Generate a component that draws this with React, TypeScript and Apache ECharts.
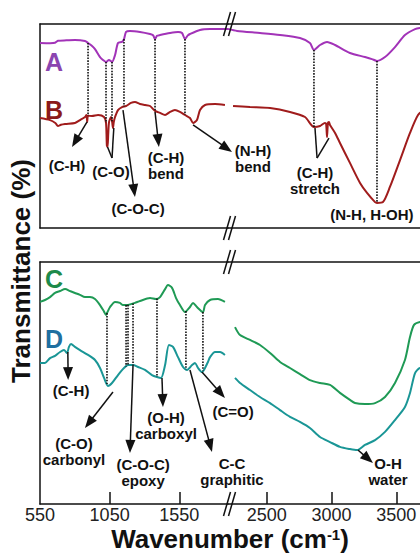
import React, { useEffect, useRef } from 'react';
import * as echarts from 'echarts';

// ---------- data (wavenumber cm^-1, transmittance in arbitrary % units) ----------
const specA: [number, number][] = [
  [550, 90.7], [622, 90.6], [658, 90.8], [679, 91.8], [740, 92.0], [801, 92.2], [873, 91.7], [895, 90.7],
  [920, 89.5], [945, 87.7], [981, 83.8], [1000, 82.5], [1024, 81.4], [1045, 82.4], [1067, 81.4], [1089, 84.8],
  [1110, 90.7], [1139, 91.2], [1153, 92.6], [1168, 96.1], [1196, 96.6], [1268, 96.1], [1340, 95.1], [1362, 94.5],
  [1376, 92.6], [1390, 94.2], [1412, 94.6], [1484, 95.6], [1541, 96.1], [1570, 95.6], [1591, 92.6], [1610, 94.3],
  [1627, 95.1], [1699, 97.1], [1771, 97.5], [1843, 97.5], [1900, 97.6],
  [2200, 97.6], [2270, 96.6], [2447, 95.6], [2602, 94.6], [2756, 93.1], [2833, 90.7], [2864, 87.3], [2911, 89.7],
  [2965, 91.2], [3027, 89.7], [3142, 85.8], [3258, 83.8], [3312, 82.8], [3351, 81.9], [3413, 83.8], [3490, 88.7],
  [3567, 94.6], [3645, 97.5], [3683, 98.0], [3800, 98.5], [4000, 98.5],
];
const specB: [number, number][] = [
  [550, 53.9], [622, 52.9], [660, 51.5], [679, 50.0], [700, 50.6], [730, 51.0], [801, 51.5], [837, 52.9],
  [873, 54.4], [883, 55.4], [889, 52.0], [895, 55.0], [923, 54.9], [967, 55.4], [1010, 54.4], [1024, 51.5],
  [1030, 40.5], [1035, 39.7], [1040, 46.0], [1046, 52.0], [1060, 54.4], [1068, 52.0], [1074, 49.0], [1080, 52.0],
  [1089, 54.4], [1110, 57.8], [1139, 59.3], [1168, 59.8], [1203, 61.3], [1232, 61.8], [1268, 60.8], [1304, 60.3],
  [1340, 59.8], [1376, 57.4], [1412, 56.4], [1448, 55.4], [1484, 56.9], [1519, 57.8], [1555, 56.9], [1591, 55.4],
  [1627, 53.9], [1649, 51.5], [1677, 52.9], [1699, 57.8], [1735, 60.3], [1807, 60.8], [1878, 60.3],
  [2239, 59.8], [2370, 59.3], [2525, 58.8], [2679, 56.9], [2795, 54.4], [2864, 49.5], [2911, 50.0], [2949, 51.5],
  [2958, 51.0], [2965, 44.6], [2972, 51.5], [2980, 52.0], [2988, 50.5], [3027, 46.6], [3065, 41.7], [3142, 31.9],
  [3220, 22.1], [3274, 17.2], [3336, 12.7], [3351, 12.3], [3397, 12.7], [3451, 20.1], [3529, 33.3], [3606, 46.6],
  [3668, 55.4], [3720, 58.0], [3800, 60.0],
];
const specC: [number, number][] = [
  [550, 83.5], [586, 84.3], [622, 85.5], [658, 87.2], [694, 88.0], [730, 88.8], [765, 88.0], [801, 87.2],
  [837, 86.4], [873, 85.5], [909, 85.5], [945, 84.7], [981, 82.2], [1010, 79.5], [1024, 78.1], [1031, 78.9],
  [1053, 81.4], [1089, 83.5], [1124, 83.1], [1146, 82.2], [1175, 82.2], [1203, 82.6], [1232, 83.1], [1268, 83.9],
  [1340, 85.1], [1383, 84.7], [1412, 85.5], [1448, 88.8], [1469, 90.5], [1498, 89.3], [1527, 85.1], [1555, 82.2],
  [1591, 79.3], [1627, 81.4], [1649, 83.1], [1677, 81.4], [1720, 79.3], [1735, 82.2], [1771, 84.3], [1828, 84.7],
  [1878, 83.5],
  [2254, 73.1], [2293, 69.8], [2370, 67.8], [2447, 65.7], [2525, 62.4], [2602, 58.7], [2679, 56.2], [2756, 53.7],
  [2833, 51.2], [2911, 50.0], [2988, 49.2], [3065, 45.9], [3142, 43.0], [3181, 41.7], [3258, 41.3], [3336, 41.7],
  [3413, 44.2], [3490, 50.0], [3567, 59.5], [3606, 69.0], [3637, 74.0], [3683, 75.2], [3800, 76.0],
];
const specD: [number, number][] = [
  [550, 58.3], [586, 58.3], [622, 60.3], [658, 61.2], [694, 62.8], [722, 63.6], [744, 62.4], [758, 64.9],
  [773, 66.1], [801, 64.9], [837, 63.6], [895, 61.6], [945, 59.5], [981, 56.2], [1010, 52.1], [1038, 48.8],
  [1067, 50.0], [1110, 53.3], [1153, 56.2], [1182, 57.4], [1218, 57.4], [1254, 56.6], [1304, 55.4], [1354, 53.3],
  [1390, 52.5], [1419, 52.1], [1448, 57.4], [1476, 65.7], [1505, 64.9], [1541, 60.7], [1577, 56.6], [1606, 55.4],
  [1642, 57.4], [1663, 58.3], [1685, 56.2], [1713, 54.5], [1756, 58.7], [1771, 60.7], [1807, 62.8], [1843, 62.8],
  [1878, 61.6],
  [2254, 52.1], [2293, 50.0], [2370, 47.1], [2447, 44.2], [2525, 41.7], [2602, 38.8], [2679, 36.0], [2756, 33.9],
  [2833, 31.4], [2911, 27.7], [2988, 25.6], [3065, 23.6], [3142, 22.7], [3197, 22.3], [3258, 24.4], [3336, 26.4],
  [3413, 29.8], [3490, 34.7], [3567, 40.1], [3606, 45.9], [3645, 54.1], [3683, 56.2], [3800, 57.0],
];

const ticksLeft = [550, 1050, 1550];
const ticksRight = [2500, 3000, 3500];
const rangeLeft = [550, 1900];
const rangeRight = [2200, 4000];

// dotted guide lines (wavenumbers), from upper to lower spectrum
const dottedTop = [895, 1024, 1067, 1153, 1376, 1591, 2864, 3351];
const dottedBottom = [1031, 1168, 1182, 1218, 1390, 1598, 1720];

// annotations in data units: panel 0 = top (A/B), 1 = bottom (C/D)
const arrows: { panel: number; from: [number, number]; to: [number, number]; head: boolean }[] = [
  { panel: 0, from: [888, 52.0], to: [780, 39.7], head: true },
  { panel: 0, from: [1035, 39.7], to: [1067, 34.3], head: false },
  { panel: 0, from: [1080, 49.0], to: [1067, 34.3], head: false },
  { panel: 0, from: [1146, 57.8], to: [1232, 15.2], head: true },
  { panel: 0, from: [1376, 56.9], to: [1404, 39.7], head: true },
  { panel: 0, from: [1649, 50.5], to: [2231, 37.3], head: true },
  { panel: 0, from: [2872, 49.0], to: [2888, 34.3], head: false },
  { panel: 0, from: [2980, 44.1], to: [2888, 34.3], head: false },
  { panel: 1, from: [750, 62.8], to: [752, 51.2], head: true },
  { panel: 1, from: [1074, 46.3], to: [873, 31.4], head: true },
  { panel: 1, from: [1218, 57.4], to: [1196, 21.1], head: true },
  { panel: 1, from: [1426, 52.1], to: [1433, 40.1], head: true },
  { panel: 1, from: [1627, 55.4], to: [1785, 21.5], head: true },
  { panel: 1, from: [1713, 54.5], to: [1878, 43.8], head: true },
  { panel: 1, from: [3204, 22.3], to: [3320, 16.9], head: true },
];
const labels: { panel: number; at: [number, number]; text: string }[] = [
  { panel: 0, at: [744, 30.4], text: '(C-H)' },
  { panel: 0, at: [1060, 27.9], text: '(C-O)' },
  { panel: 0, at: [1254, 9.8], text: '(C-O-C)' },
  { panel: 0, at: [1455, 30.4], text: '(C-H)\nbend' },
  { panel: 0, at: [2393, 34.3], text: '(N-H)\nbend' },
  { panel: 0, at: [2872, 23.5], text: '(C-H)\nstretch' },
  { panel: 0, at: [3312, 6.4], text: '(N-H, H-OH)' },
  { panel: 1, at: [773, 46.7], text: '(C-H)' },
  { panel: 1, at: [794, 21.5], text: '(C-O)\ncarbonyl' },
  { panel: 1, at: [1290, 13.2], text: '(C-O-C)\nepoxy' },
  { panel: 1, at: [1455, 32.6], text: '(O-H)\ncarboxyl' },
  { panel: 1, at: [1929, 13.6], text: 'C-C\ngraphitic' },
  { panel: 1, at: [1936, 38.4], text: '(C=O)' },
  { panel: 1, at: [3436, 13.6], text: 'O-H\nwater' },
];
const panelNames = ['A', 'B', 'C', 'D'];
const panelNamePos: [number, number][] = [[651, 81.4], [651, 57.8], [651, 93.0], [651, 68.2]];

// ---------- styles / layout ----------
const FONT = "'Liberation Sans', Arial, Helvetica, sans-serif";
const INK = '#111111';
const lineColors = ['#a233b8', '#a01c1c', '#1f9a55', '#1a9696'];
const nameColors = ['#8b45b0', '#8b1a1a', '#1d8a4a', '#1f6fa0'];
const grids = [
  { left: 40, top: 24, width: 188, height: 204 },
  { left: 228, top: 24, width: 233, height: 204 },
  { left: 40, top: 262, width: 188, height: 242 },
  { left: 228, top: 262, width: 233, height: 242 },
];

function sideOf(wn: number) {
  return wn < 2050 ? 0 : 1;
}

function interp(spec: [number, number][], wn: number) {
  for (let i = 0; i < spec.length - 1; i++) {
    const [x0, y0] = spec[i];
    const [x1, y1] = spec[i + 1];
    if (wn >= x0 && wn <= x1) return y0 + ((y1 - y0) * (wn - x0)) / (x1 - x0);
  }
  return spec[spec.length - 1][1];
}

function buildOption() {
  const xAxis: any[] = [];
  const yAxis: any[] = [];
  grids.forEach((_, g) => {
    const left = g % 2 === 0;
    const bottomPanel = g >= 2;
    const range = left ? rangeLeft : rangeRight;
    const ticks = left ? ticksLeft : ticksRight;
    ['bottom', 'top'].forEach((pos) => {
      const show = pos === 'bottom' && bottomPanel;
      xAxis.push({
        type: 'value',
        gridIndex: g,
        position: pos,
        min: range[0],
        max: range[1],
        axisLine: { show: true, onZero: false, lineStyle: { color: INK, width: 1.5 } },
        axisTick: {
          show,
          inside: true,
          length: 12,
          lineStyle: { color: INK, width: 1.5 },
          customValues: ticks.filter((t) => t !== rangeLeft[0]),
        },
        axisLabel: {
          show,
          customValues: ticks,
          formatter: (v: number) => String(v),
          fontSize: 18,
          lineHeight: 16,
          color: '#222',
          fontFamily: FONT,
          margin: 3,
        },
        splitLine: { show: false },
      });
    });
    yAxis.push({
      type: 'value',
      gridIndex: g,
      min: 0,
      max: 100,
      show: left,
      axisLine: { show: true, lineStyle: { color: INK, width: 1.5 } },
      axisTick: { show: false },
      axisLabel: { show: false },
      splitLine: { show: false },
    });
  });

  const specs = [specA, specB, specC, specD];
  const series: any[] = [];
  specs.forEach((spec, s) => {
    const panel = s < 2 ? 0 : 1;
    [0, 1].forEach((side) => {
      const g = panel * 2 + side;
      const data = side === 0 ? spec.filter((p) => p[0] <= rangeLeft[1]) : spec.filter((p) => p[0] >= rangeRight[0]);
      series.push({
        type: 'line',
        name: panelNames[s],
        xAxisIndex: g * 2,
        yAxisIndex: g,
        data,
        symbol: 'none',
        showSymbol: false,
        smooth: 0.25,
        silent: true,
        lineStyle: { color: lineColors[s], width: 2 },
      });
    });
  });

  return {
    animation: false,
    backgroundColor: '#ffffff',
    grid: grids.map((g) => ({ ...g, containLabel: false, outerBoundsMode: 'none' })),
    xAxis,
    yAxis,
    series,
  };
}

function buildGraphics(chart: any) {
  const px = (panel: number, wn: number, t: number): number[] =>
    chart.convertToPixel({ gridIndex: panel * 2 + sideOf(wn) }, [wn, t]);
  const els: any[] = [];

  // dotted guide lines
  const dotted = (panel: number, list: number[], up: [number, number][], lo: [number, number][]) => {
    list.forEach((wn) => {
      const p0 = px(panel, wn, interp(up, wn));
      const p1 = px(panel, wn, interp(lo, wn));
      els.push({
        type: 'line',
        z: 100,
        silent: true,
        shape: { x1: p0[0], y1: p0[1], x2: p1[0], y2: p1[1] },
        style: { stroke: INK, lineWidth: 1.6, lineDash: [1.6, 1.3] },
      });
    });
  };
  dotted(0, dottedTop, specA, specB);
  dotted(1, dottedBottom, specC, specD);

  // arrows / connector lines
  arrows.forEach((a) => {
    const p0 = px(a.panel, a.from[0], a.from[1]);
    const p1 = px(a.panel, a.to[0], a.to[1]);
    const dx = p1[0] - p0[0];
    const dy = p1[1] - p0[1];
    const len = Math.hypot(dx, dy) || 1;
    const ux = dx / len;
    const uy = dy / len;
    const L = 13;
    const W = 5;
    const end = a.head ? [p1[0] - ux * L * 0.7, p1[1] - uy * L * 0.7] : p1;
    els.push({
      type: 'line',
      z: 100,
      silent: true,
      shape: { x1: p0[0], y1: p0[1], x2: end[0], y2: end[1] },
      style: { stroke: INK, lineWidth: 1.5 },
    });
    if (a.head) {
      const bx = p1[0] - ux * L;
      const by = p1[1] - uy * L;
      els.push({
        type: 'polygon',
        z: 101,
        silent: true,
        shape: { points: [[p1[0], p1[1]], [bx - uy * W, by + ux * W], [bx + uy * W, by - ux * W]] },
        style: { fill: INK },
      });
    }
  });

  // annotation texts
  labels.forEach((l) => {
    const p = px(l.panel, l.at[0], l.at[1]);
    els.push({
      type: 'text',
      z: 102,
      silent: true,
      x: p[0],
      y: p[1],
      style: {
        text: l.text,
        fill: INK,
        fontSize: 15,
        fontWeight: 'bold',
        fontFamily: FONT,
        lineHeight: 16,
        align: 'center',
        verticalAlign: 'middle',
        textAlign: 'center',
        textVerticalAlign: 'middle',
      },
    });
  });

  // panel letters
  panelNames.forEach((n, i) => {
    const p = px(i < 2 ? 0 : 1, panelNamePos[i][0], panelNamePos[i][1]);
    els.push({
      type: 'text',
      z: 102,
      silent: true,
      x: p[0],
      y: p[1],
      style: {
        text: n,
        fill: nameColors[i],
        fontSize: 25,
        fontWeight: 'bold',
        fontFamily: FONT,
        align: 'center',
        verticalAlign: 'middle',
        textAlign: 'center',
        textVerticalAlign: 'middle',
      },
    });
  });

  // axis break marks "//"
  const bx = px(0, rangeLeft[1], 0)[0];
  const ys = [px(0, 2000, 100)[1], px(0, 2000, 0)[1], px(1, 2000, 100)[1], px(1, 2000, 0)[1]];
  ys.forEach((y) => {
    [-1, 4].forEach((off) => {
      const c = bx + off;
      els.push({
        type: 'line',
        z: 103,
        silent: true,
        shape: { x1: c - 3.5, y1: y + 12, x2: c + 3.5, y2: y - 12 },
        style: { stroke: INK, lineWidth: 1.5 },
      });
    });
  });

  // axis titles
  els.push({
    type: 'text',
    z: 102,
    silent: true,
    x: 21,
    y: 271,
    rotation: Math.PI / 2,
    style: {
      text: 'Transmittance (%)',
      fill: INK,
      fontSize: 26,
      fontWeight: 'bold',
      fontFamily: FONT,
      align: 'center',
      verticalAlign: 'middle',
      textAlign: 'center',
      textVerticalAlign: 'middle',
    },
  });
  els.push({
    type: 'text',
    z: 102,
    silent: true,
    x: 230,
    y: 539,
    style: {
      text: '{a|Wavenumber (cm}{s|-1}{a|)}',
      rich: {
        a: { fontSize: 26, fontWeight: 'bold', fontFamily: FONT, fill: INK, lineHeight: 24 },
        s: { fontSize: 15, fontWeight: 'bold', fontFamily: FONT, fill: INK, lineHeight: 24, verticalAlign: 'top' },
      },
      fill: INK,
      align: 'center',
      verticalAlign: 'middle',
      textAlign: 'center',
      textVerticalAlign: 'middle',
    },
  });
  return els;
}

export default function App() {
  const ref = useRef<HTMLDivElement>(null);
  useEffect(() => {
    if (!ref.current) return;
    const chart = echarts.init(ref.current, null, { renderer: 'svg' });
    chart.setOption(buildOption());
    chart.setOption({ graphic: { elements: buildGraphics(chart) } });
    return () => chart.dispose();
  }, []);
  return (
    <div
      ref={ref}
      style={{ position: 'fixed', left: 0, top: 0, width: 420, height: 554, background: '#ffffff' }}
    />
  );
}
